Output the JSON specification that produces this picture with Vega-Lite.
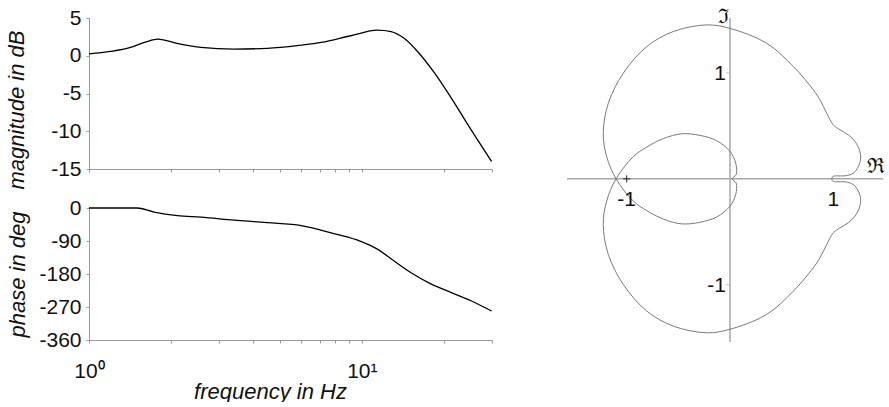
{
  "$schema": "https://vega.github.io/schema/vega-lite/v6.json",
  "background": "white",
  "padding": {"left": 5, "top": 7, "right": 0, "bottom": 0},
  "config": {
    "view": {"stroke": null},
    "font": "Liberation Sans",
    "axis": {
      "grid": false,
      "domainColor": "#9a9a9a",
      "tickColor": "#9a9a9a",
      "tickSize": 3,
      "labelFont": "Liberation Sans",
      "labelFontSize": 21,
      "labelColor": "#111111",
      "titleFont": "Liberation Sans",
      "titleFontSize": 22,
      "titleFontStyle": "italic",
      "titleFontWeight": "normal",
      "titleColor": "#111111"
    }
  },
  "resolve": {"scale": {"x": "independent", "y": "independent"}},
  "spacing": 71,
  "hconcat": [
    {
      "bounds": "flush",
      "spacing": 39,
      "resolve": {"scale": {"x": "independent", "y": "independent"}},
      "vconcat": [
        {
          "width": 403,
          "height": 151,
          "data": {"values": [
            {"f": 1.0, "mag": 0.25}, {"f": 1.2, "mag": 0.57}, {"f": 1.42, "mag": 1.1},
            {"f": 1.62, "mag": 1.85}, {"f": 1.79, "mag": 2.2}, {"f": 2.12, "mag": 1.6},
            {"f": 2.57, "mag": 1.1}, {"f": 3.4, "mag": 0.89}, {"f": 4.5, "mag": 0.97},
            {"f": 6.0, "mag": 1.4}, {"f": 7.1, "mag": 1.76}, {"f": 9.1, "mag": 2.65},
            {"f": 11.4, "mag": 3.4}, {"f": 12.8, "mag": 3.2}, {"f": 14.25, "mag": 2.34},
            {"f": 16.0, "mag": 0.57}, {"f": 18.4, "mag": -2.2}, {"f": 21.2, "mag": -5.5},
            {"f": 24.4, "mag": -9.05}, {"f": 29.9, "mag": -14.0}
          ]},
          "mark": {"type": "line", "color": "#000000", "strokeWidth": 1.3, "interpolate": "monotone"},
          "encoding": {
            "x": {
              "field": "f", "type": "quantitative",
              "scale": {"type": "log", "domain": [1, 30], "nice": false},
              "axis": {"title": null, "labels": false, "values": [1, 2, 3, 4, 5, 6, 7, 8, 9, 10, 20, 30]}
            },
            "y": {
              "field": "mag", "type": "quantitative",
              "scale": {"domain": [-15, 5], "nice": false, "zero": false},
              "axis": {
                "values": [5, 0, -5, -10, -15],
                "labelExpr": "replace(datum.label, '\u2212', '-')",
                "title": "magnitude in dB", "labelPadding": 5, "titlePadding": 22, "titleY": 91.5
              }
            }
          }
        },
        {
          "width": 403,
          "height": 132,
          "data": {"values": [
            {"f": 1.0, "phase": 0}, {"f": 1.5, "phase": 0}, {"f": 1.73, "phase": -11},
            {"f": 2.11, "phase": -20.7}, {"f": 2.57, "phase": -25}, {"f": 3.4, "phase": -33},
            {"f": 4.5, "phase": -40}, {"f": 6.0, "phase": -48}, {"f": 7.9, "phase": -70},
            {"f": 9.9, "phase": -91}, {"f": 11.4, "phase": -112}, {"f": 13.1, "phase": -144},
            {"f": 15.1, "phase": -176}, {"f": 17.9, "phase": -207}, {"f": 21.2, "phase": -230},
            {"f": 25.1, "phase": -253}, {"f": 29.9, "phase": -281}
          ]},
          "mark": {"type": "line", "color": "#000000", "strokeWidth": 1.3, "interpolate": "monotone"},
          "encoding": {
            "x": {
              "field": "f", "type": "quantitative",
              "scale": {"type": "log", "domain": [1, 30], "nice": false},
              "axis": {
                "values": [1, 2, 3, 4, 5, 6, 7, 8, 9, 10, 20, 30],
                "labelExpr": "datum.value == 1 ? '10\u2070' : datum.value == 10 ? '10\u00b9' : ''",
                "labelFlush": false,
                "labelOverlap": false,
                "labelPadding": 17,
                "labelDx": 4,
                "title": "frequency in Hz",
                "titleX": 181,
                "titlePadding": 0
              }
            },
            "y": {
              "field": "phase", "type": "quantitative",
              "scale": {"domain": [-360, 0], "nice": false, "zero": false},
              "axis": {
                "values": [0, -90, -180, -270, -360],
                "labelExpr": "replace(datum.label, '\u2212', '-')",
                "title": "phase in deg", "labelPadding": 5, "titlePadding": 9
              }
            }
          }
        }
      ]
    },
    {
      "width": 316,
      "height": 324,
      "encoding": {
        "x": {"field": "re", "type": "quantitative", "scale": {"domain": [-1.578, 1.481], "nice": false, "zero": false}, "axis": null},
        "y": {"field": "im", "type": "quantitative", "scale": {"domain": [-1.54, 1.518], "nice": false, "zero": false}, "axis": null}
      },
      "layer": [
        {
          "data": {"values": [
            {"re": -1.578, "re2": 1.481, "im": 0, "im2": 0},
            {"re": 0, "re2": 0, "im": -1.54, "im2": 1.518}
          ]},
          "mark": {"type": "rule", "color": "#a8a8a8", "strokeWidth": 1.5},
          "encoding": {"x2": {"field": "re2"}, "y2": {"field": "im2"}}
        },
        {
          "data": {"values": [{"re": 0, "im": 1}, {"re": 0, "im": -1}]},
          "mark": {"type": "tick", "orient": "horizontal", "color": "#a8a8a8", "size": 4, "thickness": 1, "xOffset": -2}
        },
        {
          "data": {"values": [
            {"i": 1, "re": 0.985, "im": 0.0}, {"i": 2, "re": 0.994, "im": -0.022}, {"i": 3, "re": 1.033, "im": -0.028},
            {"i": 4, "re": 1.113, "im": -0.028}, {"i": 5, "re": 1.194, "im": -0.054}, {"i": 6, "re": 1.242, "im": -0.116},
            {"i": 7, "re": 1.265, "im": -0.195}, {"i": 8, "re": 1.252, "im": -0.274}, {"i": 9, "re": 1.21, "im": -0.352},
            {"i": 10, "re": 1.145, "im": -0.415}, {"i": 11, "re": 1.065, "im": -0.462}, {"i": 12, "re": 1.0, "im": -0.509},
            {"i": 13, "re": 0.936, "im": -0.62}, {"i": 14, "re": 0.871, "im": -0.745}, {"i": 15, "re": 0.806, "im": -0.84},
            {"i": 16, "re": 0.613, "im": -1.06}, {"i": 17, "re": 0.355, "im": -1.28}, {"i": 18, "re": 0.0, "im": -1.42},
            {"i": 19, "re": -0.226, "im": -1.453}, {"i": 20, "re": -0.549, "im": -1.39}, {"i": 21, "re": -0.806, "im": -1.248},
            {"i": 22, "re": -1.033, "im": -0.997}, {"i": 23, "re": -1.178, "im": -0.714}, {"i": 24, "re": -1.227, "im": -0.431},
            {"i": 25, "re": -1.194, "im": -0.21}, {"i": 26, "re": -1.103, "im": 0.0}, {"i": 27, "re": -0.936, "im": 0.21},
            {"i": 28, "re": -0.806, "im": 0.3}, {"i": 29, "re": -0.645, "im": 0.38}, {"i": 30, "re": -0.468, "im": 0.425},
            {"i": 31, "re": -0.29, "im": 0.41}, {"i": 32, "re": -0.129, "im": 0.36}, {"i": 33, "re": 0.0, "im": 0.258},
            {"i": 34, "re": 0.055, "im": 0.148}, {"i": 35, "re": 0.06, "im": 0.04}, {"i": 36, "re": 0.02, "im": 0.0},
            {"i": 37, "re": 0.06, "im": -0.04}, {"i": 38, "re": 0.055, "im": -0.148}, {"i": 39, "re": 0.0, "im": -0.258},
            {"i": 40, "re": -0.129, "im": -0.36}, {"i": 41, "re": -0.29, "im": -0.41}, {"i": 42, "re": -0.468, "im": -0.425},
            {"i": 43, "re": -0.645, "im": -0.38}, {"i": 44, "re": -0.806, "im": -0.3}, {"i": 45, "re": -0.936, "im": -0.21},
            {"i": 46, "re": -1.103, "im": 0.0}, {"i": 47, "re": -1.194, "im": 0.21}, {"i": 48, "re": -1.227, "im": 0.431},
            {"i": 49, "re": -1.178, "im": 0.714}, {"i": 50, "re": -1.033, "im": 0.997}, {"i": 51, "re": -0.806, "im": 1.248},
            {"i": 52, "re": -0.549, "im": 1.39}, {"i": 53, "re": -0.226, "im": 1.453}, {"i": 54, "re": 0.0, "im": 1.42},
            {"i": 55, "re": 0.355, "im": 1.28}, {"i": 56, "re": 0.613, "im": 1.06}, {"i": 57, "re": 0.806, "im": 0.84},
            {"i": 58, "re": 0.871, "im": 0.745}, {"i": 59, "re": 0.936, "im": 0.62}, {"i": 60, "re": 1.0, "im": 0.509},
            {"i": 61, "re": 1.065, "im": 0.462}, {"i": 62, "re": 1.145, "im": 0.415}, {"i": 63, "re": 1.21, "im": 0.352},
            {"i": 64, "re": 1.252, "im": 0.274}, {"i": 65, "re": 1.265, "im": 0.195}, {"i": 66, "re": 1.242, "im": 0.116},
            {"i": 67, "re": 1.194, "im": 0.054}, {"i": 68, "re": 1.113, "im": 0.028}, {"i": 69, "re": 1.033, "im": 0.028},
            {"i": 70, "re": 0.994, "im": 0.022}, {"i": 71, "re": 0.985, "im": 0.0}
          ]},
          "mark": {"type": "line", "color": "#7a7a7a", "strokeWidth": 1, "interpolate": "catmull-rom"},
          "encoding": {"order": {"field": "i", "type": "quantitative"}}
        },
        {
          "data": {"values": [{"re": -1, "im": 0}]},
          "mark": {"type": "point", "shape": "M-1,0L1,0M0,-1L0,1", "size": 49, "filled": false, "color": "#222222", "strokeWidth": 1, "opacity": 1}
        },
        {
          "data": {"values": [{"re": 0, "im": 1, "t": "1"}, {"re": 0, "im": -1, "t": "-1"}]},
          "mark": {"type": "text", "align": "right", "baseline": "middle", "dx": -4, "dy": 1, "font": "Liberation Sans", "fontSize": 21, "color": "#111111"},
          "encoding": {"text": {"field": "t"}}
        },
        {
          "data": {"values": [{"re": -1, "im": 0, "t": "-1"}, {"re": 1, "im": 0, "t": "1"}]},
          "mark": {"type": "text", "align": "center", "baseline": "alphabetic", "dy": 27, "font": "Liberation Sans", "fontSize": 21, "color": "#111111"},
          "encoding": {"text": {"field": "t"}}
        },
        {
          "data": {"values": [{"re": 0, "im": 1.518, "t": "ℑ"}]},
          "mark": {"type": "text", "align": "right", "baseline": "alphabetic", "dx": -1, "dy": 5, "font": "DejaVu Serif", "fontSize": 20, "color": "#111111"},
          "encoding": {"text": {"field": "t"}}
        },
        {
          "data": {"values": [{"re": 1.481, "im": 0, "t": "ℜ"}]},
          "mark": {"type": "text", "align": "right", "baseline": "alphabetic", "dx": 2, "dy": -6, "font": "DejaVu Serif", "fontSize": 21, "color": "#111111"},
          "encoding": {"text": {"field": "t"}}
        }
      ]
    }
  ]
}
